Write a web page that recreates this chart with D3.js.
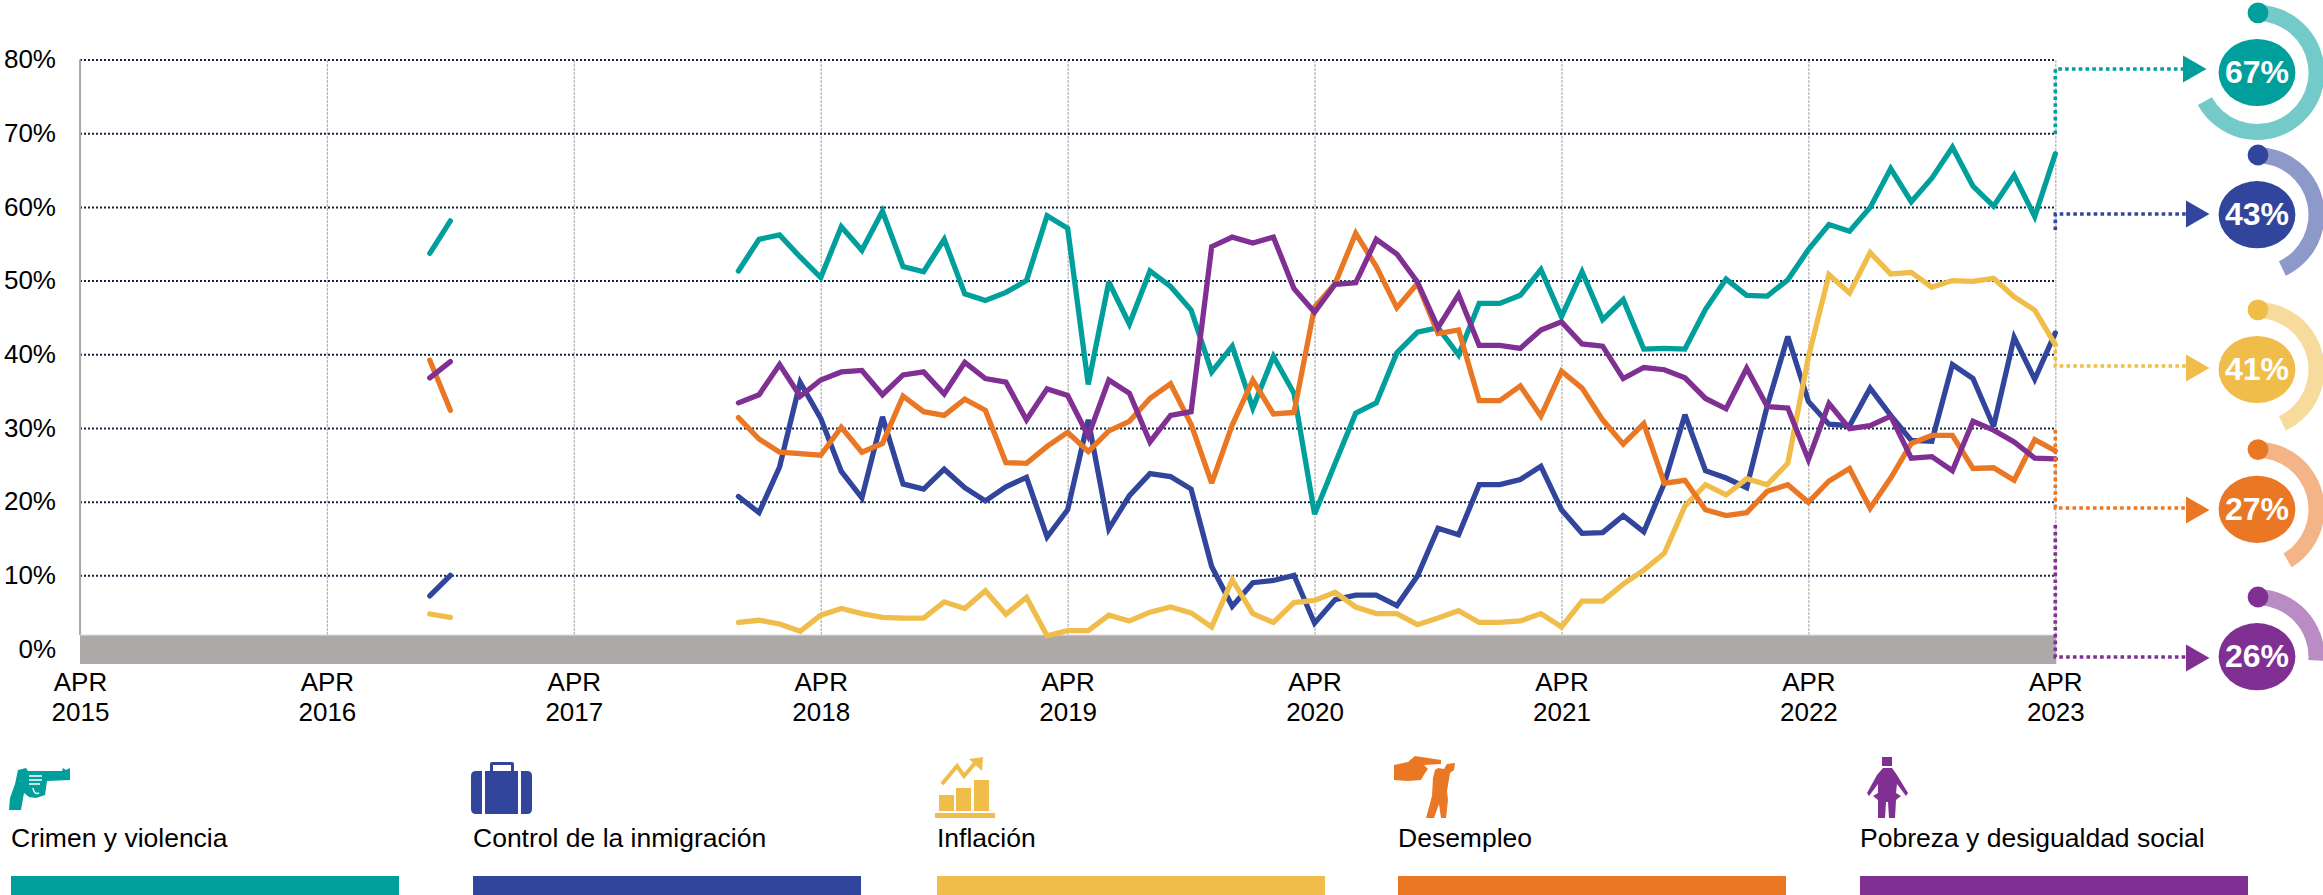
<!DOCTYPE html>
<html lang="es">
<head>
<meta charset="utf-8">
<script src="https://cdn.jsdelivr.net/npm/d3@7"></script>
<style>
html,body{margin:0;padding:0;background:#fff;}
svg{display:block;}
text{font-family:"Liberation Sans",Arial,sans-serif;fill:#000;}
</style>
</head>
<body>
<svg id="chart" width="2323" height="895"></svg>
<script>
// ---------- data ----------
const categories = ["Crimen y violencia","Control de la inmigración","Inflación","Desempleo","Pobreza y desigualdad social"];
const latestLabels = [67,43,41,27,26];
const ringPercent = [67,43,43,41.4,26];
const yTicks = [0,10,20,30,40,50,60,70,80];
const xTickMonths = [0,12,24,36,48,60,72,84,96];
const xTickYears = ["2015","2016","2017","2018","2019","2020","2021","2022","2023"];
const xTickMonthName = "APR";

// months since April 2015
const earlyStartMonth = 17;
const mainStartMonth = 32;

const crimenEarly = [53.7,58.1];
const inmigracionEarly = [7.2,10.0];
const inflacionEarly = [4.75,4.3];
const desempleoEarly = [39.2,32.4];
const pobrezaEarly = [36.8,39.0];

const crimen = [51.3,55.6,56.2,53.2,50.4,57.3,54.1,59.4,51.9,51.2,55.6,48.2,47.3,48.4,50.0,58.8,57.1,35.9,49.8,44.1,51.3,49.2,46.0,37.6,41.1,32.7,39.7,34.7,18.3,25.2,32.0,33.4,40.2,43.0,43.6,39.9,46.9,46.9,48.0,51.5,45.1,51.2,44.7,47.4,40.7,40.8,40.7,46.1,50.2,48.0,47.9,50.1,54.2,57.6,56.7,59.9,65.2,60.7,63.9,68.1,62.8,60.1,64.3,58.7,67.2];
const inmigracion = [20.7,18.5,24.7,36.2,31.3,24.1,20.5,31.5,22.4,21.7,24.4,21.9,20.1,22.0,23.3,15.2,18.9,31.1,16.3,20.8,23.8,23.4,21.7,11.2,5.8,9.0,9.3,10.0,3.5,6.7,7.3,7.3,5.9,9.9,16.4,15.5,22.3,22.3,23.0,24.8,18.9,15.7,15.8,18.1,15.9,22.5,31.8,24.2,23.2,21.9,33.0,42.4,33.6,30.5,30.3,35.4,31.7,28.3,28.2,38.6,36.7,30.2,42.3,36.6,42.9];
const inflacion = [3.6,3.9,3.4,2.4,4.6,5.5,4.8,4.3,4.2,4.2,6.4,5.5,7.9,4.7,7.0,1.8,2.5,2.5,4.6,3.8,5.0,5.7,4.9,3.0,9.4,4.8,3.6,6.3,6.6,7.7,5.7,4.8,4.8,3.3,4.2,5.2,3.6,3.6,3.8,4.8,3.0,6.5,6.5,8.8,10.7,13.0,19.4,22.3,20.9,23.1,22.3,25.2,39.6,50.8,48.3,53.8,50.9,51.1,49.1,50.0,49.9,50.3,47.8,46.0,41.3];
const desempleo = [31.4,28.5,26.7,26.5,26.3,30.1,26.7,27.9,34.3,32.2,31.7,33.9,32.4,25.3,25.2,27.5,29.4,26.8,29.6,30.9,34.0,36.0,30.5,22.5,30.4,36.5,31.9,32.1,46.4,49.6,56.4,51.9,46.3,49.6,42.8,43.3,33.7,33.7,35.7,31.6,37.7,35.4,31.1,27.8,30.6,22.5,22.9,18.9,18.1,18.5,21.4,22.3,19.9,22.8,24.5,19.1,23.2,27.9,29.0,29.0,24.5,24.6,22.9,28.4,26.9];
const pobreza = [33.4,34.5,38.6,34.3,36.5,37.6,37.8,34.5,37.2,37.6,34.6,38.9,36.7,36.2,31.1,35.3,34.4,28.9,36.5,34.7,28.1,31.7,32.2,54.6,55.9,55.1,55.9,48.9,45.7,49.5,49.7,55.6,53.6,49.8,43.6,48.1,41.2,41.2,40.8,43.3,44.4,41.4,41.1,36.7,38.2,37.9,36.8,34.0,32.6,38.1,32.9,32.7,25.7,33.3,29.9,30.3,31.6,25.9,26.1,24.2,30.9,29.7,28.1,25.9,25.8];

const earlySeries = [crimenEarly,inmigracionEarly,inflacionEarly,desempleoEarly,pobrezaEarly];
const mainSeries = [crimen,inmigracion,inflacion,desempleo,pobreza];

// ---------- styles and layout ----------
const colors = ["#009f9c","#30459b","#f0bd4a","#e97724","#802f92"];
const font = '"Liberation Sans",Arial,sans-serif';
const plot = {left:80,right:2055.3,top:59.5,zero:649,bandTop:635,bandBottom:664};
const callout = [
  {fromY:134,lineY:69,arrowX:2183,arrowY:69,cy:72.5},
  {fromY:230,lineY:214,arrowX:2186,arrowY:214,cy:214.7},
  {fromY:350,lineY:366,arrowX:2186,arrowY:368,cy:369.5},
  {fromY:430,lineY:508,arrowX:2186,arrowY:510,cy:509.3},
  {fromY:525,lineY:657,arrowX:2186,arrowY:658,cy:656.7}
];
const legendX = [11,473,937,1398,1860];

const svg = d3.select("#chart");
const x = d3.scaleLinear().domain([0,96]).range([plot.left,plot.right]);
const y = d3.scaleLinear().domain([0,80]).range([plot.zero,plot.top]);

// ---------- x axis: vertical guides + labels ----------
const xAxis = d3.axisBottom(x)
  .tickValues(xTickMonths)
  .tickSize(-(plot.bandTop-plot.top))
  .tickFormat((d,i)=>xTickYears[i]);
const gx = svg.append("g").attr("transform",`translate(0,${plot.bandTop})`).call(xAxis);
gx.select(".domain").remove();
gx.selectAll("line").attr("stroke","#b4b4b4").attr("stroke-width",1.2).attr("stroke-dasharray","3 1");
gx.selectAll("text").each(function(d,i){
  const t = d3.select(this).attr("dy",null).attr("y",null).text(null)
    .attr("font-family",font).attr("font-size",26).attr("fill","#000");
  t.append("tspan").attr("x",0).attr("y",56).text(xTickMonthName);
  t.append("tspan").attr("x",0).attr("y",86).text(xTickYears[i]);
});

// ---------- y axis: dotted grid + labels ----------
const yAxis = d3.axisLeft(y)
  .tickValues(yTicks)
  .tickSize(-(plot.right-plot.left))
  .tickPadding(24)
  .tickFormat(d=>d+"%");
const gy = svg.append("g").attr("transform",`translate(${plot.left},0)`).call(yAxis);
gy.select(".domain").remove();
gy.selectAll("line").attr("stroke","#14233f").attr("stroke-width",2).attr("stroke-dasharray","2 2");
gy.selectAll("text").attr("font-family",font).attr("font-size",26).attr("fill","#000");

// left rule and grey base band
svg.append("line").attr("x1",plot.left).attr("x2",plot.left).attr("y1",plot.top).attr("y2",plot.bandTop)
  .attr("stroke","#a9a9a9").attr("stroke-width",2);
svg.append("rect").attr("x",plot.left).attr("y",plot.bandTop)
  .attr("width",plot.right-plot.left+1).attr("height",plot.bandBottom-plot.bandTop).attr("fill","#ada9a8");
svg.append("line").attr("x1",plot.left).attr("x2",plot.right).attr("y1",plot.bandTop).attr("y2",plot.bandTop)
  .attr("stroke","#dcdcdc").attr("stroke-width",1);

// ---------- lines ----------
const line = d3.line().x(d=>x(d[0])).y(d=>y(d[1]));
categories.forEach((c,i)=>{
  const g = svg.append("g").attr("fill","none").attr("stroke",colors[i]).attr("stroke-width",5.3)
    .attr("stroke-linecap","round").attr("stroke-linejoin","miter").attr("stroke-miterlimit",3);
  g.append("path").attr("d",line(earlySeries[i].map((v,k)=>[earlyStartMonth+k,v])));
  g.append("path").attr("d",line(mainSeries[i].map((v,k)=>[mainStartMonth+k,v])));
});

// ---------- call-outs ----------
const arc = d3.arc().innerRadius(51.5).outerRadius(67.5).startAngle(0);
callout.forEach((c,i)=>{
  const col = colors[i];
  svg.append("path")
    .attr("d",`M${plot.right},${c.fromY}V${c.lineY}H${c.arrowX}`)
    .attr("fill","none").attr("stroke",col).attr("stroke-width",3.6).attr("stroke-dasharray","3.6 3.2");
  svg.append("path")
    .attr("d",`M${c.arrowX},${c.arrowY-13.5}L${c.arrowX+23.5},${c.arrowY}L${c.arrowX},${c.arrowY+13.5}Z`)
    .attr("fill",col);
  const g = svg.append("g").attr("transform",`translate(2257,${c.cy})`);
  g.append("path").attr("d",arc({endAngle:ringPercent[i]/100*2*Math.PI})).attr("fill",col).attr("fill-opacity",0.55);
  g.append("circle").attr("cx",1).attr("cy",-59.7).attr("r",10.4).attr("fill",col);
  g.append("ellipse").attr("rx",38.4).attr("ry",33.6).attr("fill",col);
  g.append("text").attr("text-anchor","middle").attr("y",-1).attr("dy","0.36em")
    .attr("font-family",font).attr("font-weight","bold").attr("font-size",32)
    .style("fill","#fff").text(latestLabels[i]+"%");
});

// ---------- legend ----------
categories.forEach((c,i)=>{
  svg.append("text").attr("x",legendX[i]).attr("y",847)
    .attr("font-family",font).attr("font-size",26.5).text(c);
  svg.append("rect").attr("x",legendX[i]).attr("y",876).attr("width",388).attr("height",19).attr("fill",colors[i]);
});

// icons
const icon = (tx,ty,col)=>svg.append("g").attr("transform",`translate(${tx},${ty})`).attr("fill",col);
// revolver
const i0 = icon(9,768,colors[0]);
i0.append("path").attr("d","M0,42L1,30L6,16L9,2L17,0L19,3L53,3L54,0L57,2L61,0L61,12L38,13L36,27L27,30L20,29L15,25L12,42Z");
i0.append("path").attr("d","M20,8H33M20,12H33M20,16H31").attr("stroke","#fff").attr("stroke-width",1.5).attr("fill","none");
i0.append("path").attr("d","M24,20Q25,27 30,25").attr("stroke","#fff").attr("stroke-width",1.5).attr("fill","none");
// briefcase
const i1 = icon(471,762,colors[1]);
i1.append("path").attr("d","M19,9V2Q19,0 21,0H41Q43,0 43,2V9H40V3H22V9Z");
i1.append("path").attr("d","M5,9H11V52H5Q0,52 0,47V14Q0,9 5,9Z");
i1.append("rect").attr("x",14).attr("y",9).attr("width",33).attr("height",43);
i1.append("path").attr("d","M50,9H56Q61,9 61,14V47Q61,52 56,52H50Z");
// inflation chart
const i2 = icon(935,757,colors[2]);
i2.append("rect").attr("x",0).attr("y",56).attr("width",60).attr("height",5);
i2.append("rect").attr("x",4).attr("y",38).attr("width",15).attr("height",16);
i2.append("rect").attr("x",21).attr("y",31).attr("width",15).attr("height",23);
i2.append("rect").attr("x",39).attr("y",23).attr("width",15).attr("height",31);
i2.append("path").attr("d","M7,27L22,9L29,19L41,5").attr("fill","none").attr("stroke",colors[2]).attr("stroke-width",4);
i2.append("path").attr("d","M34,2L48,0L47,14Z");
// unemployment: pointing hand and figure
const i3 = icon(1394,756,colors[3]);
i3.append("path").attr("d","M0,9L14,6L21,0L47,4L47,8L30,9L34,13L31,17L27,24L14,25L0,24Z");
i3.append("path").attr("d","M44,12L50,13L53,8L61,7L60,14L56,17L53,35L54,44L52,62H47L45,48L40,62H32L38,40L39,22L41,14Z");
// poverty: figure
const i4 = icon(1866,757,colors[4]);
i4.append("rect").attr("x",16).attr("y",0).attr("width",10).attr("height",9);
i4.append("path").attr("d","M17,11H26L31,18L42,36L40,39L31,27L30,36L35,39L30,43L29,61H23L22,45H20L19,61H12L12,43L7,39L12,36L12,27L3,39L1,36L11,18Z");
</script>
</body>
</html>
